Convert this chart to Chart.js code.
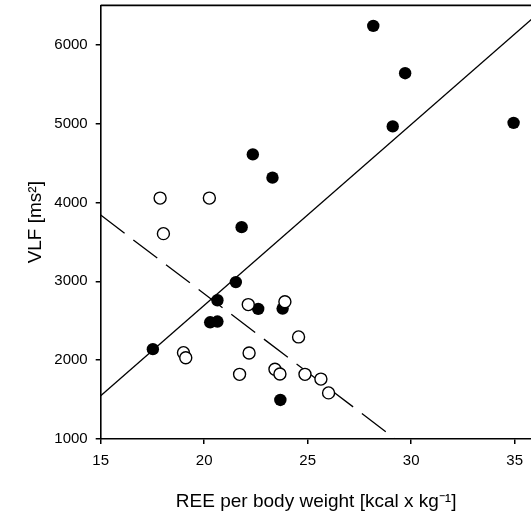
<!DOCTYPE html>
<html>
<head>
<meta charset="utf-8">
<script src="https://cdn.jsdelivr.net/npm/chart.js@4"></script>
<style>
  html, body { margin: 0; padding: 0; background: #fff; overflow: hidden; }
  #wrap { width: 531px; height: 513px; position: relative; overflow: hidden; }
  /* the plot is cut off at the right edge, like the source picture */
  #inner { position: absolute; left: 0; top: -2px; width: 539px; height: 515px; }
</style>
</head>
<body>
<div id="wrap"><div id="inner"><canvas id="chart"></canvas></div></div>
<script>
// REE per body weight vs VLF, two groups
const filledX = [17.52, 20.29, 20.64, 20.64, 21.53, 22.61, 21.81, 22.35, 23.30, 23.79, 23.68, 28.17, 29.71, 29.11, 34.95];
const filledY = [2140, 2480, 2490, 2760, 2990, 2650, 3687, 4610, 4315, 2655, 1495, 6240, 5640, 4965, 5010];

const openX = [17.87, 18.03, 20.25, 19.00, 19.11, 22.13, 22.17, 21.71, 23.90, 24.56, 23.42, 23.66, 24.87, 25.64, 26.01];
const openY = [4056, 3605, 4056, 2095, 2030, 2705, 2090, 1820, 2740, 2295, 1885, 1825, 1820, 1760, 1585];

// regression lines (end points)
const solidX = [15, 35.82];
const solidY = [1548, 6325];
const dashedX = [15, 29.24];
const dashedY = [3840, 1000];

const xTicks = [15, 20, 25, 30, 35];
const yTicks = [1000, 2000, 3000, 4000, 5000, 6000];

const xTitle = 'REE per body weight [kcal x kg\u207B\u00B9]';
const yTitle = 'VLF [ms\u00B2]';

function toPoints(xs, ys) {
    return xs.map((x, i) => ({ x: x, y: ys[i] }));
}

// top frame line
const topLine = {
    id: 'topLine',
    afterDraw(chart) {
        const a = chart.chartArea;
        const ctx = chart.ctx;
        ctx.save();
        ctx.strokeStyle = '#000';
        ctx.lineWidth = 1.6;
        ctx.beginPath();
        ctx.moveTo(a.left, a.top);
        ctx.lineTo(a.right + 20, a.top);
        ctx.stroke();
        ctx.restore();
    }
};

const tickFont = { family: 'Liberation Sans, Arial, sans-serif', size: 15 };
const titleFont = { family: 'Liberation Sans, Arial, sans-serif', size: 19 };

new Chart(document.getElementById('chart'), {
    type: 'scatter',
    data: {
        datasets: [
            {
                label: 'open',
                data: toPoints(openX, openY),
                pointRadius: 6,
                pointBackgroundColor: '#fff',
                pointBorderColor: '#000',
                pointBorderWidth: 1.4,
                showLine: false
            },
            {
                label: 'filled',
                data: toPoints(filledX, filledY),
                pointRadius: 6.2,
                pointBackgroundColor: '#000',
                pointBorderColor: '#000',
                pointBorderWidth: 0,
                showLine: false
            },
            {
                label: 'fit filled',
                data: toPoints(solidX, solidY),
                showLine: true,
                pointRadius: 0,
                borderColor: '#000',
                borderWidth: 1.3,
                fill: false
            },
            {
                label: 'fit open',
                data: toPoints(dashedX, dashedY),
                showLine: true,
                pointRadius: 0,
                borderColor: '#000',
                borderWidth: 1.3,
                borderDash: [30, 11],
                fill: false
            }
        ]
    },
    options: {
        responsive: true,
        maintainAspectRatio: false,
        animation: false,
        layout: { padding: 0 },
        plugins: {
            legend: { display: false },
            tooltip: { enabled: false }
        },
        scales: {
            x: {
                type: 'linear',
                min: 15,
                max: 35.82,
                afterBuildTicks: (scale) => { scale.ticks = xTicks.map(v => ({ value: v })); },
                afterFit: (scale) => { scale.height = 74; },
                ticks: {
                    color: '#000',
                    font: tickFont,
                    padding: 8,
                    maxRotation: 0,
                    callback: (v) => String(v)
                },
                grid: {
                    display: true,
                    drawOnChartArea: false,
                    drawTicks: true,
                    tickLength: 5,
                    color: '#000',
                    lineWidth: 1.5
                },
                border: { display: true, color: '#000', width: 1.6 },
                title: {
                    display: true,
                    text: xTitle,
                    color: '#000',
                    font: titleFont,
                    padding: { top: 0, bottom: 0 }
                }
            },
            y: {
                type: 'linear',
                min: 1000,
                max: 6500,
                afterBuildTicks: (scale) => { scale.ticks = yTicks.map(v => ({ value: v })); },
                afterFit: (scale) => {
                    scale.width = 100.7;
                    scale.paddingTop = 0;
                    scale.paddingBottom = 0;
                },
                ticks: {
                    color: '#000',
                    font: tickFont,
                    padding: 8,
                    callback: (v) => String(v)
                },
                grid: {
                    display: true,
                    drawOnChartArea: false,
                    drawTicks: true,
                    tickLength: 5,
                    color: '#000',
                    lineWidth: 1.5
                },
                border: { display: true, color: '#000', width: 1.6 },
                title: {
                    display: true,
                    text: yTitle,
                    color: '#000',
                    font: titleFont,
                    padding: { top: 24, bottom: 0 }
                }
            }
        }
    },
    plugins: [topLine]
});
</script>
</body>
</html>
